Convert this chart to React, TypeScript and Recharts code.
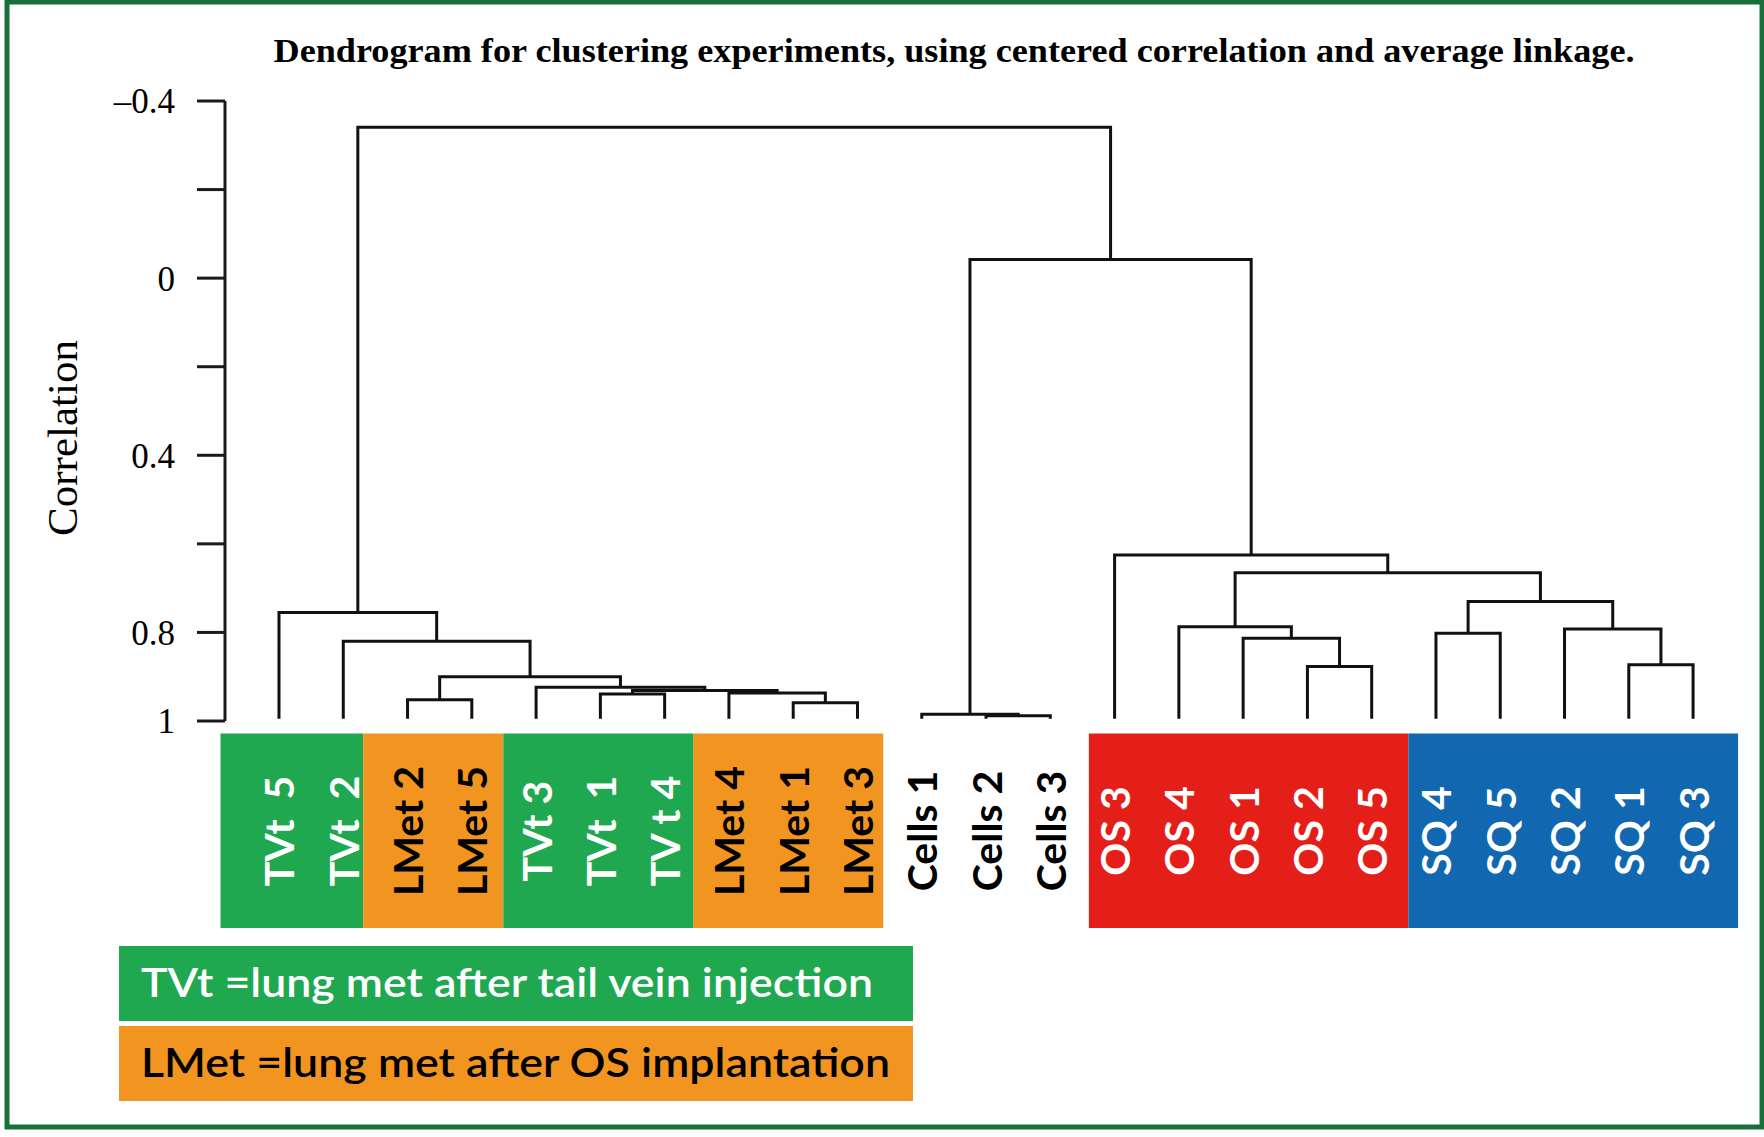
import React from 'react';
import { ComposedChart, Line, XAxis, YAxis, ReferenceArea } from 'recharts';

// ---------------- data ----------------
const leafLabels = [
  'TVt\u00A0 5', 'TVt\u00A0 2', 'LMet 2', 'LMet 5', 'TVt 3', 'TVt\u00A0 1', 'TV t 4',
  'LMet 4', 'LMet 1', 'LMet 3', 'Cells 1', 'Cells 2', 'Cells 3',
  'OS 3', 'OS 4', 'OS 1', 'OS 2', 'OS 5', 'SQ 4', 'SQ 5', 'SQ 2', 'SQ 1', 'SQ 3',
];
const leafGroup = [
  'TVt', 'TVt', 'LMet', 'LMet', 'TVt', 'TVt', 'TVt', 'LMet', 'LMet', 'LMet',
  'Cells', 'Cells', 'Cells', 'OS', 'OS', 'OS', 'OS', 'OS', 'SQ', 'SQ', 'SQ', 'SQ', 'SQ',
];
// correlation at which the leaves start
const leafBase = 0.995;

// merges: [left, right, correlation]; number = leaf index, 'mK' = K-th merge
const merges: [number | string, number | string, number][] = [
  [8, 9, 0.959],        // m0 LMet1 + LMet3
  [7, 'm0', 0.937],     // m1
  [5, 6, 0.939],        // m2 TVt1 + TVt4
  ['m2', 'm1', 0.931],  // m3
  [4, 'm3', 0.924],     // m4
  [2, 3, 0.952],        // m5 LMet2 + LMet5
  ['m5', 'm4', 0.9],    // m6
  [1, 'm6', 0.82],      // m7
  [0, 'm7', 0.755],     // m8
  [11, 12, 0.988],      // m9 Cells2 + Cells3
  [10, 'm9', 0.985],    // m10
  [16, 17, 0.877],      // m11 OS2 + OS5
  [15, 'm11', 0.813],   // m12
  [14, 'm12', 0.787],   // m13
  [21, 22, 0.873],      // m14 SQ1 + SQ3
  [20, 'm14', 0.792],   // m15
  [18, 19, 0.802],      // m16 SQ4 + SQ5
  ['m16', 'm15', 0.73], // m17
  ['m13', 'm17', 0.665],// m18
  [13, 'm18', 0.625],   // m19
  ['m10', 'm19', -0.042], // m20
  ['m8', 'm20', -0.341],  // m21
];

const boxGroups = ['TVt', 'LMet', 'TVt', 'LMet', 'OS', 'SQ'];
const boxFirstLeaf = [0, 2, 4, 7, 13, 18];
const boxLastLeaf = [1, 3, 6, 9, 17, 22];

const yTicks = [-0.4, -0.2, 0, 0.2, 0.4, 0.6, 0.8, 1];
const yTickLabels: Record<string, string> = { '-0.4': '\u20130.4', '0': '0', '0.4': '0.4', '0.8': '0.8', '1': '1' };

const titleText = 'Dendrogram for clustering experiments, using centered correlation and average linkage.';
const yLabelText = 'Correlation';
const legendTexts = ['TVt =lung met after tail vein injection', 'LMet =lung met after OS implantation'];

// ---------------- styles ----------------
const groupFill: Record<string, string> = {
  TVt: '#1fa84f', LMet: '#f29420', Cells: '#ffffff', OS: '#e41f1a', SQ: '#1168b1',
};
const groupText: Record<string, string> = {
  TVt: '#ffffff', LMet: '#000000', Cells: '#000000', OS: '#ffffff', SQ: '#ffffff',
};
const FRAME = '#17703b';
const SANS = 'Lato, "Open Sans", "Liberation Sans", sans-serif';
const SERIF = '"Liberation Serif", "DejaVu Serif", serif';

// layout: how far (in leaf widths) each colour box reaches past its first / last leaf
const BOX_PAD_LEFT = [0.91, 0.69, 0.51, 0.55, 0.4, 0.43];
const BOX_PAD_RIGHT = [0.31, 0.49, 0.45, 0.4, 0.57, 0.7];

// build segments from the merge table
type Node = { x: number; h: number };
const nodes: Record<string, Node> = {};
const segments: { x: number; y: number }[][] = [];
const nodeOf = (r: number | string): Node => (typeof r === 'number' ? { x: r, h: leafBase } : nodes[r]);
merges.forEach(([l, r, h], k) => {
  const L = nodeOf(l);
  const R = nodeOf(r);
  nodes['m' + k] = { x: (L.x + R.x) / 2, h };
  segments.push([
    { x: L.x, y: L.h },
    { x: L.x, y: h },
    { x: R.x, y: h },
    { x: R.x, y: R.h },
  ]);
});

const LeafTick = (props: any) => {
  const { x, y, payload } = props;
  const i = payload.value as number;
  const g = leafGroup[i];
  return (
    <text
      transform={`translate(${x},${y + 110}) rotate(-90)`}
      textAnchor="middle"
      dominantBaseline="central"
      fill={groupText[g]}
      style={{ fontFamily: SANS, fontWeight: 700, fontSize: 41, whiteSpace: 'pre' }}
    >
      {leafLabels[i]}
    </text>
  );
};

const YLabel = (props: any) => {
  const vb = props.viewBox || { x: 0, y: 101, width: 225, height: 620 };
  const cx = vb.x + 77;
  const cy = vb.y + vb.height / 2 + 27;
  return (
    <text
      transform={`translate(${cx},${cy}) rotate(-90)`}
      textAnchor="middle"
      fill="#000"
      style={{ fontFamily: SERIF, fontSize: 43 }}
    >
      {yLabelText}
    </text>
  );
};

export default function App() {
  const W = 1764;
  const H = 1137;
  const leafIdx = leafLabels.map((_, i) => i);
  const BOX_TOP = 1.028;
  const BOX_BOTTOM = 1.4675;
  return (
    <div style={{ position: 'absolute', left: 0, top: 0, width: W, height: H, background: '#fff' }}>
      <ComposedChart
        width={W}
        height={H}
        margin={{ top: 101, right: 24, bottom: 376, left: 0 }}
      >
        {boxGroups.map((g, k) => (
          <ReferenceArea
            key={'box' + k}
            x1={boxFirstLeaf[k] - BOX_PAD_LEFT[k]}
            x2={boxLastLeaf[k] + BOX_PAD_RIGHT[k]}
            y1={BOX_TOP}
            y2={BOX_BOTTOM}
            fill={groupFill[g]}
            fillOpacity={1}
            stroke="none"
            ifOverflow="visible"
          />
        ))}
        <XAxis
          type="number"
          dataKey="x"
          domain={[-0.84, 22.73]}
          allowDataOverflow
          ticks={leafIdx}
          interval={0}
          axisLine={false}
          tickLine={false}
          tickSize={0}
          tickMargin={0}
          height={40}
          tick={<LeafTick />}
        />
        <YAxis
          type="number"
          domain={[-0.4, 1]}
          reversed
          allowDataOverflow
          ticks={yTicks}
          interval={0}
          width={225}
          tickSize={28}
          tickMargin={22}
          tickFormatter={(v: number) => yTickLabels[String(v)] ?? ''}
          axisLine={{ stroke: '#1a1a1a', strokeWidth: 3 }}
          tickLine={{ stroke: '#1a1a1a', strokeWidth: 3 }}
          tick={{ fontFamily: SERIF, fontSize: 35, fill: '#000' }}
          label={<YLabel />}
        />
        {segments.map((d, i) => (
          <Line
            key={'seg' + i}
            data={d}
            dataKey="y"
            type="linear"
            stroke="#111"
            strokeWidth={3}
            dot={false}
            activeDot={false}
            isAnimationActive={false}
          />
        ))}
      </ComposedChart>
      <svg
        width={W}
        height={H}
        style={{ position: 'absolute', left: 0, top: 0, pointerEvents: 'none' }}
      >
        <rect x={7} y={2} width={1755} height={1125} fill="none" stroke={FRAME} strokeWidth={5} />
        <text
          x={954}
          y={62}
          textAnchor="middle"
          textLength={1361}
          lengthAdjust="spacingAndGlyphs"
          style={{ fontFamily: SERIF, fontWeight: 700, fontSize: 33 }}
          fill="#000"
        >
          {titleText}
        </text>
        <rect x={119} y={946} width={794} height={75} fill={groupFill.TVt} />
        <text x={141} y={997} textLength={732} lengthAdjust="spacingAndGlyphs"
          style={{ fontFamily: SANS, fontSize: 40, fontWeight: 600 }} fill="#fff">
          {legendTexts[0]}
        </text>
        <rect x={119} y={1026} width={794} height={75} fill={groupFill.LMet} />
        <text x={141} y={1077} textLength={749} lengthAdjust="spacingAndGlyphs"
          style={{ fontFamily: SANS, fontSize: 40, fontWeight: 600 }} fill="#000">
          {legendTexts[1]}
        </text>
      </svg>
    </div>
  );
}
